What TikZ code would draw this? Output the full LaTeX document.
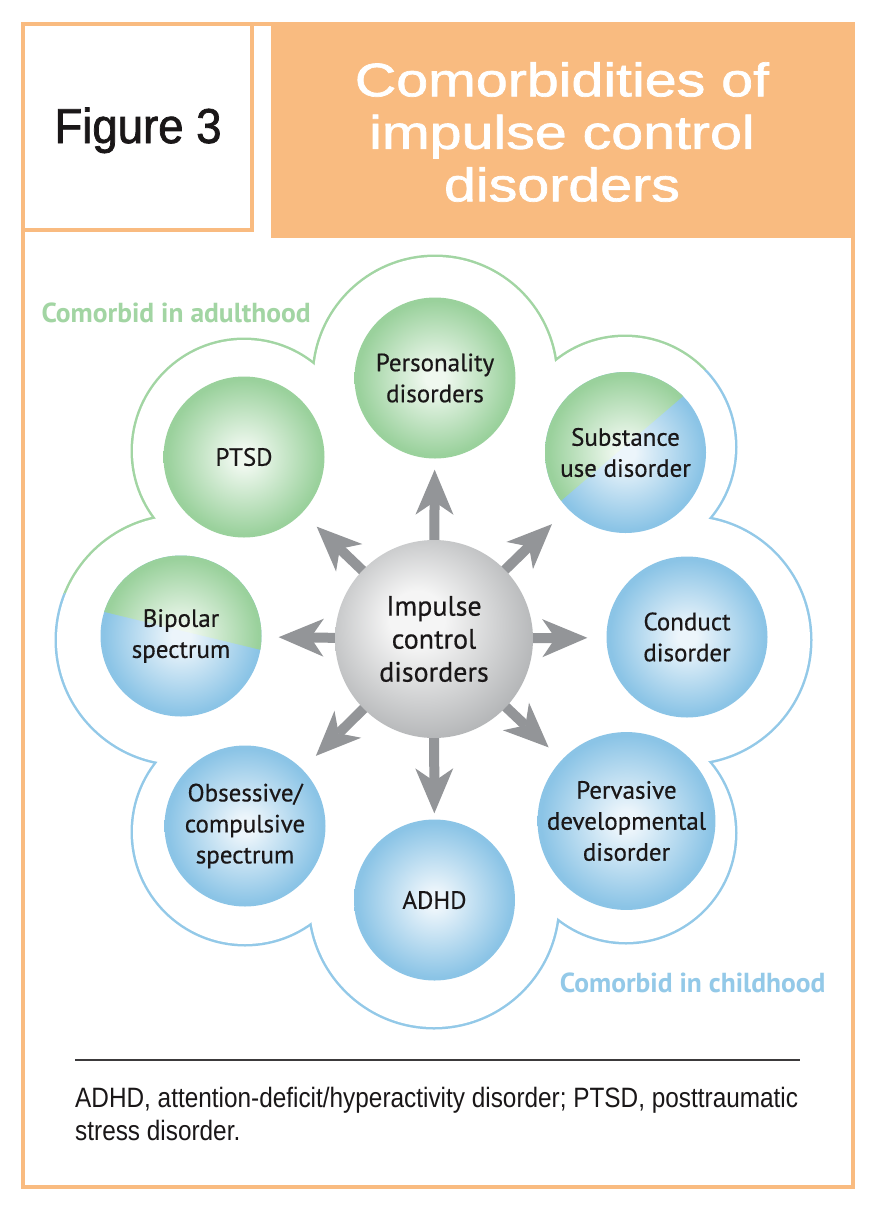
\documentclass[tikz,border=0pt]{standalone}
\usepackage{fontspec}
\usetikzlibrary{arrows.meta}
\newfontfamily\lbl[FakeBold=0.5]{PT Sans}
\newfontfamily\lblb{PT Sans}
\newfontfamily\hvfig[FakeStretch=0.93,FakeBold=1.5]{Liberation Sans}
\newfontfamily\hvwide[FakeStretch=1.22,FakeBold=1.5]{Liberation Sans}
\newfontfamily\hvcond[FakeStretch=0.87]{Liberation Sans}
\definecolor{orng}{HTML}{F9BB80}
\definecolor{gedge}{HTML}{9AD19C}
\definecolor{gcent}{HTML}{EFF8EF}
\definecolor{bedge}{HTML}{8BC4E6}
\definecolor{bcent}{HTML}{ECF5FB}
\definecolor{gline}{HTML}{A2D5A3}
\definecolor{bline}{HTML}{93C9E8}
\definecolor{arrowgray}{HTML}{939598}
\definecolor{gyc}{HTML}{F5F5F5}
\definecolor{gye}{HTML}{A9ABAD}
\definecolor{ink}{HTML}{1A1718}
\pgfdeclareradialshading{greenball}{\pgfpoint{0bp}{0bp}}{color(0bp)=(gcent); color(3bp)=(gcent); color(24bp)=(gedge); color(50bp)=(gedge)}
\pgfdeclareradialshading{blueball}{\pgfpoint{0bp}{0bp}}{color(0bp)=(bcent); color(3bp)=(bcent); color(24bp)=(bedge); color(50bp)=(bedge)}
\pgfdeclareradialshading{grayball}{\pgfpoint{-5bp}{6bp}}{color(0bp)=(gyc); color(7bp)=(gyc); color(32bp)=(gye); color(50bp)=(gye)}
\pgfdeclarelayer{bg}
\pgfsetlayers{bg,main}
\tikzset{
  ball/.style={circle, minimum size=161pt, inner sep=0pt, align=center, text=ink,
    font=\lbl\fontsize{25}{31}\selectfont},
  greenb/.style={ball, shade, shading=greenball},
  blueb/.style={ball, shade, shading=blueball},
  splitb/.style={ball},
  arr/.style={draw=arrowgray, line width=10pt, shorten <=-8pt,
    -{Stealth[length=45pt, width=38pt, inset=13pt, line width=0pt]}},
  cloudline/.style={line width=5pt},
  grouplabel/.style={font=\lblb\bfseries\fontsize{27.5}{30}\selectfont},
}
\begin{document}
\begin{tikzpicture}[x=1pt,y=-1pt]
\useasboundingbox (0,0) rectangle (880,1229);
\begin{pgfonlayer}{bg}
\fill[white] (0,0) rectangle (880,1229);
\end{pgfonlayer}
% frame and header
\draw[orng, line width=4pt] (23,24) rectangle (853,1187);
\draw[orng, line width=4pt] (23,24) rectangle (252,230);
\fill[orng] (271,22) rectangle (855,238);
\node[anchor=base, text=ink, font=\hvfig\fontsize{49}{52}\selectfont] (fig) at (138,143) {Figure 3};
\node[text=white, align=center, font=\hvwide\fontsize{47}{52.5}\selectfont] (title) at (562,132) {Comorbidities of\\impulse control\\disorders};
% nodes
\node[ball, shade, shading=grayball, minimum size=198pt, font=\lbl\fontsize{28}{33}\selectfont] (ctr) at (434,639) {Impulse\\control\\disorders};
\node[greenb] (pers) at (435,378) {Personality\\disorders};
\node[greenb] (ptsd) at (244,457) {PTSD};
\node[splitb] (subs) at (625.5,452.5) {Substance\\use disorder};
\node[blueb] (cond) at (687,637) {Conduct\\disorder};
\node[blueb] (perv) at (626.5,821) {Pervasive\\developmental\\disorder};
\node[blueb] (adhd) at (434.5,900) {ADHD};
\node[blueb] (obs) at (245,826) {Obsessive/\\compulsive\\spectrum};
\node[splitb] (bip) at (181,636) {Bipolar\\spectrum};
% cloud, arrows and two-coloured balls (background layer)
\begin{pgfonlayer}{bg}
\def\cloudlist{435/378/121, 625/447/110, 687/640/123, 626/833/109, 434/903/124, 245/832/112, 181/640/124, 244/451/111}
\begin{scope}
  \clip (0,0) -- (880,0) -- (880,309) -- (0,616) -- cycle;
  \foreach \cx/\cy/\cr in \cloudlist {\draw[gline, cloudline] (\cx,\cy) circle[radius=\cr pt];}
\end{scope}
\begin{scope}
  \clip (0,616) -- (880,309) -- (880,1229) -- (0,1229) -- cycle;
  \foreach \cx/\cy/\cr in \cloudlist {\draw[bline, cloudline] (\cx,\cy) circle[radius=\cr pt];}
\end{scope}
\foreach \cx/\cy/\cr in \cloudlist {\fill[white] (\cx,\cy) circle[radius=\cr pt];}
\fill[white] (435,378) -- (625,447) -- (687,640) -- (626,833) -- (434,903) -- (245,832) -- (181,640) -- (244,451) -- cycle;
\draw[arr, shorten >=11pt] (ctr) -- (pers);
\draw[arr, shorten >=22pt] (ctr) -- (subs);
\draw[arr, shorten >=19pt] (ctr) -- (cond);
\draw[arr, shorten >=18pt] (ctr) -- (perv);
\draw[arr, shorten >=6pt] (ctr) -- (adhd);
\draw[arr, shorten >=19pt] (ctr) -- (obs);
\draw[arr, shorten >=17pt] (ctr) -- (bip);
\draw[arr, shorten >=20pt] (ctr) -- (ptsd);
% substance use disorder: green upper-left, blue lower-right
\shade[shading=blueball] (subs.center) circle[radius=80.5pt];
\begin{scope}
  \clip (500,553) -- (730,356) -- (730,300) -- (500,300) -- cycle;
  \shade[shading=greenball] (subs.center) circle[radius=80.5pt];
\end{scope}
% bipolar spectrum: green top, blue bottom
\shade[shading=blueball] (bip.center) circle[radius=80.5pt];
\begin{scope}
  \clip (80,606) -- (290,657) -- (290,540) -- (80,540) -- cycle;
  \shade[shading=greenball] (bip.center) circle[radius=80.5pt];
\end{scope}
\end{pgfonlayer}
% group labels
\node[anchor=base west, text=gline, grouplabel] (adult) at (38,322) {Comorbid in adulthood};
\node[anchor=base east, text=bline, grouplabel] (child) at (829,992) {Comorbid in childhood};
% footnote
\coordinate (ruleL) at (75,1060);
\coordinate (ruleR) at (800,1060);
\draw[ink!85, line width=2pt] (ruleL) -- (ruleR);
\node[anchor=base west, inner sep=0pt, text=ink, font=\hvcond\fontsize{28}{33}\selectfont] (fn1) at (75,1107) {ADHD, attention-deficit/hyperactivity disorder; PTSD, posttraumatic};
\node[anchor=base west, inner sep=0pt, text=ink, font=\hvcond\fontsize{28}{33}\selectfont] (fn2) at (75,1140) {stress disorder.};
\end{tikzpicture}
\end{document}
